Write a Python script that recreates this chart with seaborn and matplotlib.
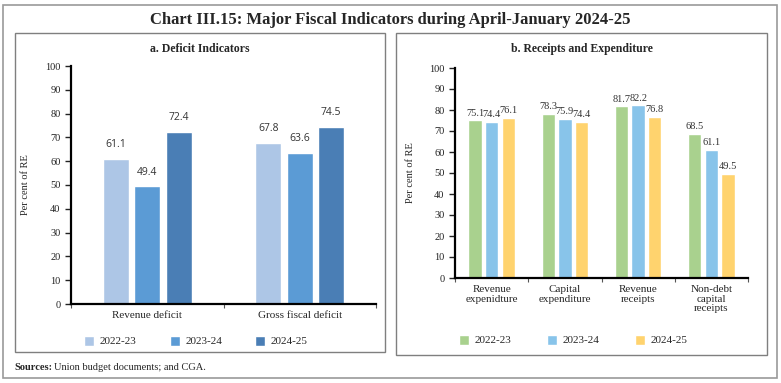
import numpy as np
import pandas as pd
import matplotlib
matplotlib.use("Agg")
import matplotlib.pyplot as plt
from matplotlib.patches import Rectangle
import seaborn as sns

# data
years = ["2022-23", "2023-24", "2024-25"]

deficit_cats = ["Revenue deficit", "Gross fiscal deficit"]
deficit_2223 = [61.1, 67.8]
deficit_2324 = [49.4, 63.6]
deficit_2425 = [72.4, 74.5]

rx_cats = ["Revenue\nexpenidture", "Capital\nexpenditure", "Revenue\nreceipts", "Non-debt\ncapital\nreceipts"]
rx_2223 = [75.1, 78.3, 81.7, 68.5]
rx_2324 = [74.4, 75.9, 82.2, 61.1]
rx_2425 = [76.1, 74.4, 76.8, 49.5]

left_colors = ["#ADC6E6", "#5B9BD5", "#4A7EB5"]
right_colors = ["#A9D18E", "#88C4EA", "#FFD36E"]

sns.set_style("white")
plt.rcParams["font.family"] = ["Liberation Serif", "DejaVu Serif"]

def to_long(cats, a, b, c):
    rows = []
    for vals, yr in zip([a, b, c], years):
        for cat, v in zip(cats, vals):
            rows.append({"cat": cat, "year": yr, "val": v})
    return pd.DataFrame(rows)

df_def = to_long(deficit_cats, deficit_2223, deficit_2324, deficit_2425)
df_rx = to_long(rx_cats, rx_2223, rx_2324, rx_2425)

fig = plt.figure(figsize=(7.81, 3.83), dpi=100)

# frames
W, H = 781, 383
def box(x0, y0, x1, y1, color, lw):
    fig.add_artist(Rectangle((x0 / W, 1 - y1 / H), (x1 - x0) / W, (y1 - y0) / H,
                             transform=fig.transFigure, fill=False,
                             edgecolor=color, linewidth=lw))
box(3, 5, 777, 378, "#9A9A9A", 1.2)
box(15, 33, 385, 352, "#7F7F7F", 1.0)
box(396, 33, 767, 355, "#7F7F7F", 1.0)

fig.text(0.5, 1 - 20 / H, "Chart III.15: Major Fiscal Indicators during April-January 2024-25",
         ha="center", va="center", fontsize=12, fontweight="bold")
fig.text(200 / W, 1 - 49 / H, "a. Deficit Indicators", ha="center", va="center",
         fontsize=8.5, fontweight="bold")
fig.text(582 / W, 1 - 49 / H, "b. Receipts and Expenditure", ha="center", va="center",
         fontsize=8.5, fontweight="bold")
fig.text(14 / W, 1 - 368 / H, "Sources:", ha="left", va="center", fontsize=7.5, fontweight="bold")
fig.text(54 / W, 1 - 368 / H, "Union budget documents; and CGA.",
         ha="left", va="center", fontsize=7.5)

ax1 = fig.add_axes([71 / W, 1 - 304 / H, 305 / W, 238 / H])
ax2 = fig.add_axes([455 / W, 1 - 278 / H, 293 / W, 210 / H])

sns.barplot(data=df_def, x="cat", y="val", hue="year", palette=left_colors,
            width=0.62, gap=0.17, saturation=1, ax=ax1, legend=True)
sns.barplot(data=df_rx, x="cat", y="val", hue="year", palette=right_colors,
            width=0.68, gap=0.2, saturation=1, ax=ax2, legend=True)

for ax, ncat, fam, fs, pad in [(ax1, 2, ["Open Sans", "DejaVu Sans"], 7.5, 6),
                               (ax2, 4, ["Liberation Serif"], 7.5, 2)]:
    ax.set_ylim(0, 100)
    ax.set_xlim(-0.5, ncat - 0.5)
    ax.set_yticks(np.arange(0, 101, 10))
    ax.set_xlabel("")
    ax.set_ylabel("Per cent of RE", fontsize=7.5)
    for s in ["top", "right"]:
        ax.spines[s].set_visible(False)
    ax.spines["left"].set_linewidth(1.6)
    ax.spines["bottom"].set_linewidth(1.6)
    ax.spines["left"].set_color("black")
    ax.spines["bottom"].set_color("black")
    ax.tick_params(axis="y", which="major", length=4, width=1, direction="out",
                   left=True, labelsize=7.5, colors="#222222")
    ax.tick_params(axis="x", which="major", length=0, labelsize=8, pad=5)
    ax.set_xticks(np.arange(-0.5, ncat, 1.0), minor=True)
    ax.tick_params(axis="x", which="minor", length=3, width=0.8, bottom=True, color="#555555")
    for cont in ax.containers:
        ax.bar_label(cont, fmt="%.1f", padding=pad, fontsize=fs, color="#333333", family=fam)

ax1.yaxis.set_label_coords(-0.135, 0.5)
ax2.yaxis.set_label_coords(-0.135, 0.5)
ax2.set_xticks(range(4))
ax2.set_xticklabels(rx_cats, linespacing=1.1)

ax1.legend(loc="center", bbox_to_anchor=(196 / W, 1 - 341 / H), bbox_transform=fig.transFigure,
           ncol=3, frameon=False, fontsize=8, handlelength=0.9, handleheight=1.0,
           columnspacing=3.0, handletextpad=0.5)
ax2.legend(loc="center", bbox_to_anchor=(573 / W, 1 - 340 / H), bbox_transform=fig.transFigure,
           ncol=3, frameon=False, fontsize=8, handlelength=0.9, handleheight=1.0,
           columnspacing=3.2, handletextpad=0.5)

fig.savefig("out.png", dpi=100)
